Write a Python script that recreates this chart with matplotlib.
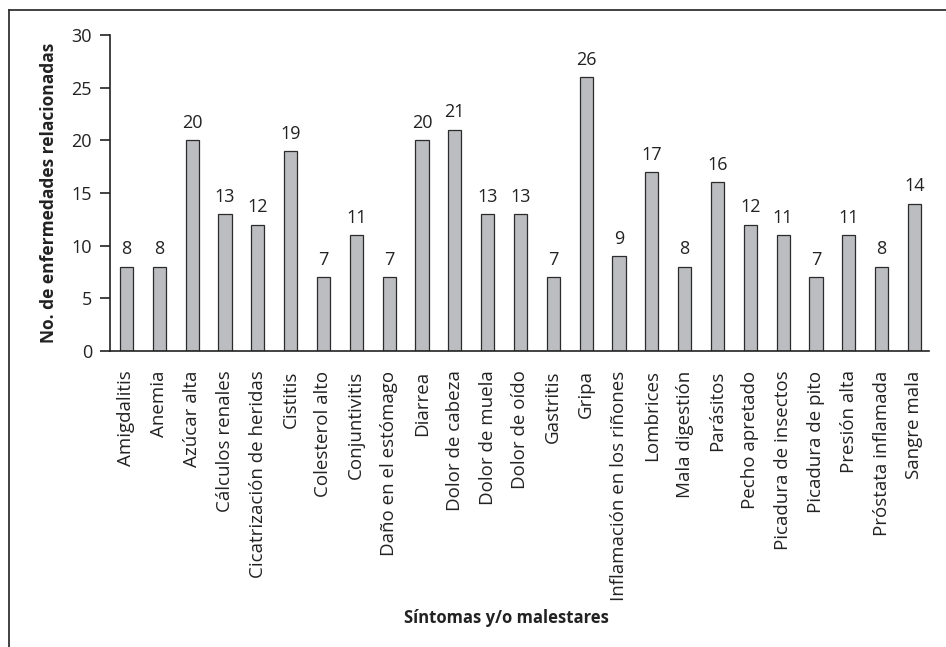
import matplotlib.pyplot as plt
from matplotlib.lines import Line2D
import numpy as np

plt.rcParams['font.family'] = ['Open Sans', 'DejaVu Sans']

# data
sintomas = ["Amigdalitis", "Anemia", "Azúcar alta", "Cálculos renales",
            "Cicatrización de heridas", "Cistitis", "Colesterol alto",
            "Conjuntivitis", "Daño en el estómago", "Diarrea", "Dolor de cabeza",
            "Dolor de muela", "Dolor de oído", "Gastritis", "Gripa",
            "Inflamación en los riñones", "Lombrices", "Mala digestión",
            "Parásitos", "Pecho apretado", "Picadura de insectos",
            "Picadura de pito", "Presión alta", "Próstata inflamada", "Sangre mala"]
enfermedades = [8, 8, 20, 13, 12, 19, 7, 11, 7, 20, 21, 13, 13, 7, 26, 9, 17,
                8, 16, 12, 11, 7, 11, 8, 14]
y_ticks = [0, 5, 10, 15, 20, 25, 30]

fig = plt.figure(figsize=(9.46, 6.47), dpi=100)
ax = fig.add_axes([0.1163, 0.4575, 0.866, 0.4884])

x = np.arange(len(sintomas))
bars = ax.bar(x, enfermedades, width=0.4, color="#bcbdc0",
              edgecolor="#2b2b2b", linewidth=0.9)

# value labels above each bar
for xi, v in zip(x, enfermedades):
    ax.annotate(str(v), (xi, v), xytext=(0, 6), textcoords="offset points",
                ha="center", va="bottom", fontsize=13, color="#222222")

ax.set_xlim(-0.5, 24.45)
ax.set_ylim(0, 30)
ax.set_yticks(y_ticks)
ax.set_xticks(x)
ax.set_xticklabels(sintomas, rotation=90, fontsize=13.5, color="#222222")
ax.tick_params(axis="x", length=0, pad=14)
ax.tick_params(axis="y", length=7, width=1.2, labelsize=13, pad=6,
               colors="#222222")

for side in ["top", "right"]:
    ax.spines[side].set_visible(False)
for side in ["left", "bottom"]:
    ax.spines[side].set_linewidth(1.2)
    ax.spines[side].set_color("#222222")

ax.set_ylabel("No. de enfermedades relacionadas", fontsize=12.5,
              fontweight="bold", color="#222222", labelpad=10)
fig.text(0.535, 0.045, "Síntomas y/o malestares", ha="center", va="center",
         fontsize=12, fontweight="bold", color="#222222")

# frame lines at left and top of the figure
fig.add_artist(Line2D([0.0092, 0.0092], [0, 0.984], color="#333333", lw=1.3))
fig.add_artist(Line2D([0.0092, 1.0], [0.984, 0.984], color="#333333", lw=1.3))

fig.savefig("out.png", dpi=100)
